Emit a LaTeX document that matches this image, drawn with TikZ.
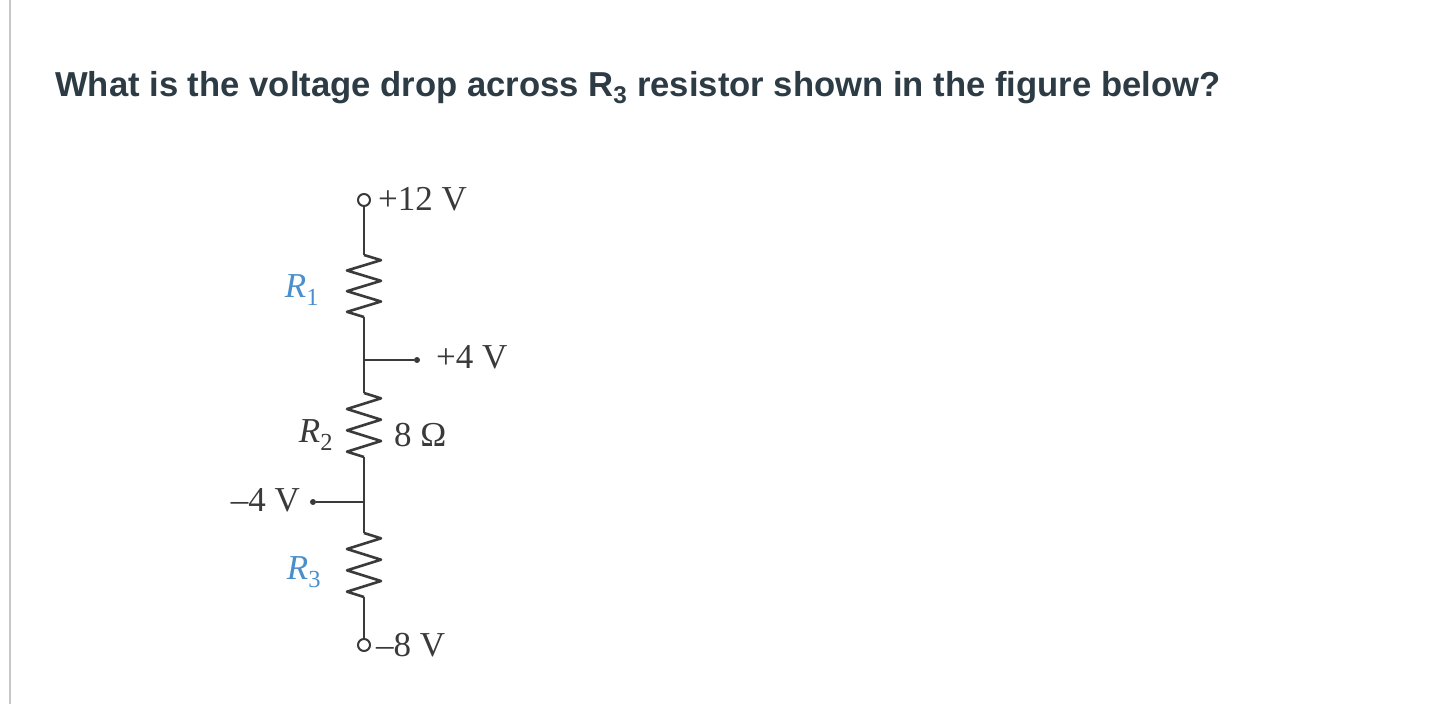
\documentclass[tikz,border=0pt]{standalone}
\usepackage{fontspec}
\setmainfont{Liberation Serif}
\newfontfamily\titlefont{Liberation Sans}
\definecolor{titlec}{HTML}{2D3B45}
\definecolor{wirec}{HTML}{3A3A3A}
\definecolor{bluelab}{HTML}{4A8FCC}
\begin{document}
\begin{tikzpicture}[x=1pt,y=-1pt,
  wire/.style={draw=wirec,line width=2.6pt,line join=round},
  lab/.style={text=wirec,font=\fontsize{35}{35}\selectfont,inner sep=0pt},
  term/.style={circle,draw=wirec,line width=2pt,fill=white,minimum size=12pt,inner sep=0pt},
  tap/.style={circle,fill=wirec,minimum size=6pt,inner sep=0pt}]
\useasboundingbox (0,0) rectangle (1450,704);
\draw[draw=black!22,line width=2pt] (10,0) -- (10,704);
\node[anchor=west,inner sep=0pt,text=titlec] (title) at (55,88) {\resizebox{1165pt}{!}{\titlefont\bfseries\fontsize{30}{30}\selectfont What is the voltage drop across R\textsubscript{3} resistor shown in the figure below?}};
\node[term] (top) at (364,200) {};
\node[term] (bot) at (364,645) {};
\coordinate (n1) at (364,360);
\coordinate (n2) at (364,502);
\node[tap] (p4) at (417,360) {};
\node[tap] (m4) at (313,502) {};
\def\res#1#2{\draw[wire] (364,#1) -- ++(17,{(#2-#1)/12}) -- ++(-34,{(#2-#1)/6}) -- ++(34,{(#2-#1)/6}) -- ++(-34,{(#2-#1)/6}) -- ++(34,{(#2-#1)/6}) -- ++(-34,{(#2-#1)/6}) -- (364,#2);}
\draw[wire] (top) -- (364,255);
\res{255}{317}
\draw[wire] (364,317) -- (n1) -- (364,393);
\res{393}{457}
\draw[wire] (364,457) -- (n2) -- (364,533);
\res{533}{597}
\draw[wire] (364,597) -- (bot);
\draw[wire] (n1) -- (p4);
\draw[wire] (n2) -- (m4);
\node[lab,anchor=west] (l12) at (378,199) {+12 V};
\node[lab,anchor=west] (l4) at (436,357) {+4 V};
\node[lab,anchor=west] (l8) at (376,645) {–8 V};
\node[lab,anchor=east] (lm4) at (300,500) {–4 V};
\node[lab,anchor=west] (lo) at (394,435) {8 Ω};
\node[lab,text=bluelab] (r1) at (302,290) {\textit{R}\textsubscript{1}};
\node[lab] (r2) at (316,435) {\textit{R}\textsubscript{2}};
\node[lab,text=bluelab] (r3) at (304,572) {\textit{R}\textsubscript{3}};
\end{tikzpicture}
\end{document}
